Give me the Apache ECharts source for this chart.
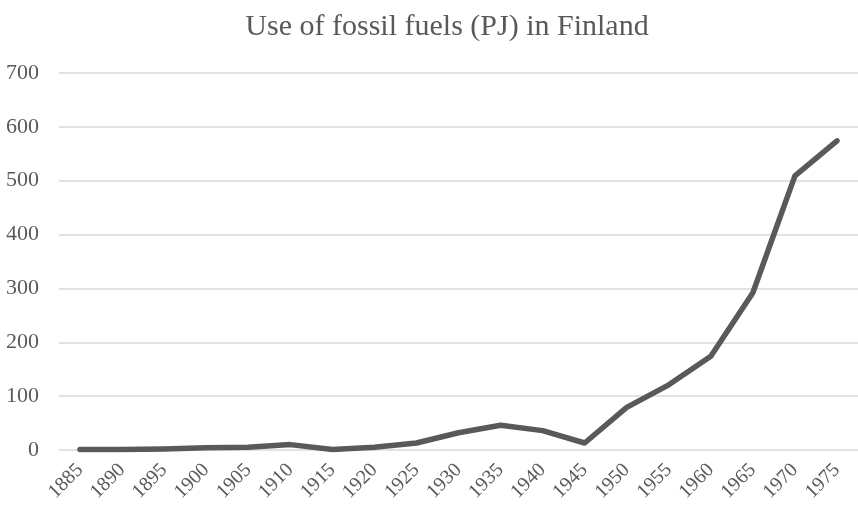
<!DOCTYPE html>
<html>
<head>
<meta charset="utf-8">
<script src="https://cdn.jsdelivr.net/npm/echarts@6/dist/echarts.min.js"></script>
<style>html,body{margin:0;padding:0;background:#fff}#c{width:858px;height:509px}</style>
</head>
<body>
<div id="c"></div>
<script>
var years = ['1885','1890','1895','1900','1905','1910','1915','1920','1925','1930','1935','1940','1945','1950','1955','1960','1965','1970','1975'];
var fossilPJ = [1, 1, 2, 4, 5, 10, 1, 5, 13, 32, 46, 36, 13, 79, 121, 174, 292, 509, 574];
var yTicks = [0, 100, 200, 300, 400, 500, 600, 700];

var chart = echarts.init(document.getElementById('c'));
chart.setOption({
  backgroundColor: '#fff',
  animation: false,
  title: {
    text: 'Use of fossil fuels (PJ) in Finland',
    left: 442, top: 7, textAlign: 'center',
    textStyle: {fontFamily: 'Liberation Serif', fontSize: 30, fontWeight: 'normal', color: '#595959'}
  },
  grid: {left: 59, right: -9.6, top: 73, bottom: 59, containLabel: false},
  xAxis: {
    type: 'category', data: years, boundaryGap: true,
    axisLine: {show: false}, axisTick: {show: false},
    axisLabel: {rotate: 45, margin: 17, fontFamily: 'Liberation Serif', fontSize: 20, color: '#595959', interval: 0}
  },
  yAxis: {
    type: 'value', min: yTicks[0], max: yTicks[yTicks.length-1], interval: 100,
    axisLine: {show: false}, axisTick: {show: false},
    axisLabel: {margin: 20, fontFamily: 'Liberation Serif', fontSize: 22, color: '#595959'},
    splitLine: {lineStyle: {color: '#d9d9d9', width: 1.5}}
  },
  series: [{
    type: 'line', data: fossilPJ, symbol: 'none',
    lineStyle: {color: '#595959', width: 5.5, cap: 'round', join: 'round'}
  }]
});
</script>
</body>
</html>
